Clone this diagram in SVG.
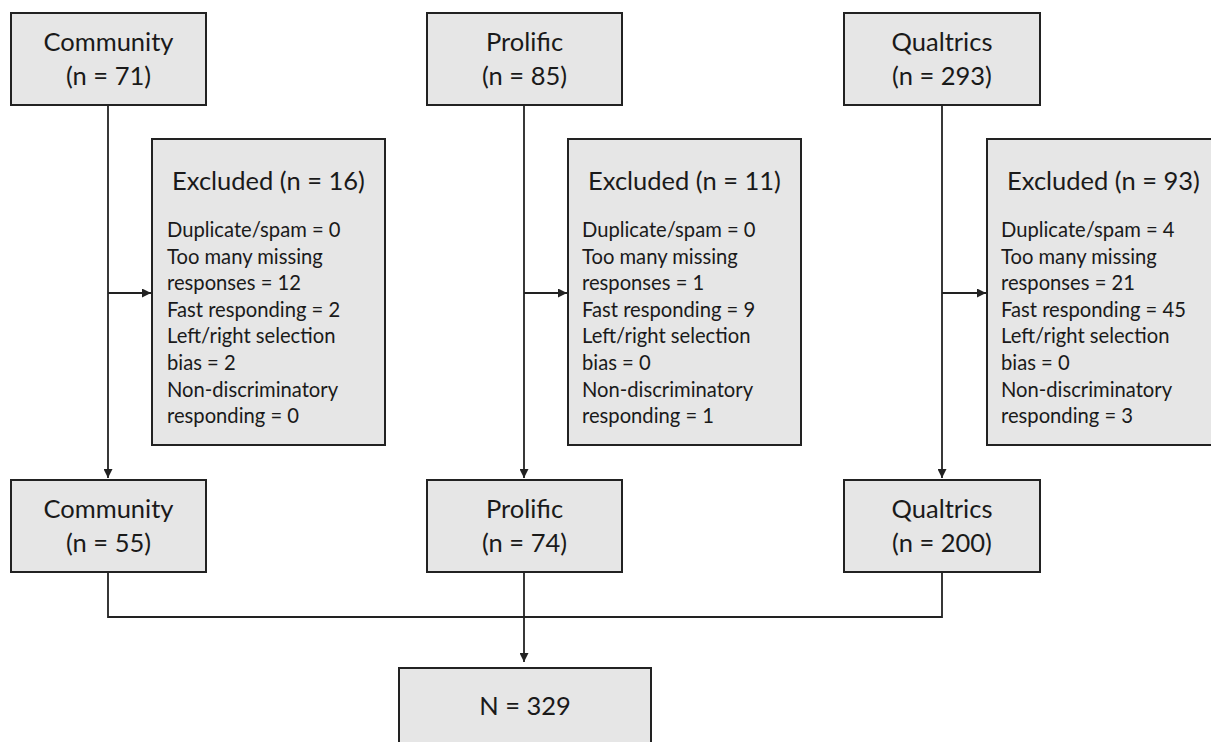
<svg xmlns="http://www.w3.org/2000/svg" width="1211" height="742" viewBox="0 0 1211 742">
<defs>
<style>
.box{fill:#e6e6e6;stroke:#222;stroke-width:2}
.t{font-family:Lato,"Liberation Sans",sans-serif;fill:#1a1a1a}
.h{font-size:25.5px;text-anchor:middle}
.b{font-size:20.2px}
.c{fill:none;stroke:#222;stroke-width:1.8}
</style>
<marker id="ah" viewBox="0 0 10 10" refX="10" refY="5" markerWidth="9" markerHeight="9" markerUnits="userSpaceOnUse" orient="auto">
<path d="M0,0 L10,5 L0,10 z" fill="#222"/>
</marker>
</defs>
<rect width="1211" height="742" fill="#fff"/>
<g id="connectors">
<path class="c" d="M108,105 V478" marker-end="url(#ah)"/>
<path class="c" d="M108,293 H151" marker-end="url(#ah)"/>
<path class="c" d="M524,105 V478" marker-end="url(#ah)"/>
<path class="c" d="M524,293 H567" marker-end="url(#ah)"/>
<path class="c" d="M942,105 V478" marker-end="url(#ah)"/>
<path class="c" d="M942,293 H986" marker-end="url(#ah)"/>
<path class="c" d="M108,572 V617 H942 V572"/>
<path class="c" d="M524,572 V662" marker-end="url(#ah)"/>
</g>
<g id="community-start">
<rect class="box" x="11" y="13" width="195" height="92"/>
<text class="t h" x="108.5" y="51">Community</text>
<text class="t h" x="108.5" y="85">(n = 71)</text>
</g>
<g id="prolific-start">
<rect class="box" x="427" y="13" width="195" height="92"/>
<text class="t h" x="524.5" y="51">Prolific</text>
<text class="t h" x="524.5" y="85">(n = 85)</text>
</g>
<g id="qualtrics-start">
<rect class="box" x="844" y="13" width="196" height="92"/>
<text class="t h" x="942" y="51">Qualtrics</text>
<text class="t h" x="942" y="85">(n = 293)</text>
</g>
<g id="community-excluded">
<rect class="box" x="152" y="139" width="233" height="306"/>
<text class="t h" x="268.5" y="190">Excluded (n = 16)</text>
<text class="t b" x="167" y="237">Duplicate/spam = 0</text>
<text class="t b" x="167" y="263.6">Too many missing</text>
<text class="t b" x="167" y="290.2">responses = 12</text>
<text class="t b" x="167" y="316.8">Fast responding = 2</text>
<text class="t b" x="167" y="343.4">Left/right selection</text>
<text class="t b" x="167" y="370">bias = 2</text>
<text class="t b" x="167" y="396.6">Non-discriminatory</text>
<text class="t b" x="167" y="423.2">responding = 0</text>
</g>
<g id="prolific-excluded">
<rect class="box" x="568" y="139" width="233" height="306"/>
<text class="t h" x="684.5" y="190">Excluded (n = 11)</text>
<text class="t b" x="582" y="237">Duplicate/spam = 0</text>
<text class="t b" x="582" y="263.6">Too many missing</text>
<text class="t b" x="582" y="290.2">responses = 1</text>
<text class="t b" x="582" y="316.8">Fast responding = 9</text>
<text class="t b" x="582" y="343.4">Left/right selection</text>
<text class="t b" x="582" y="370">bias = 0</text>
<text class="t b" x="582" y="396.6">Non-discriminatory</text>
<text class="t b" x="582" y="423.2">responding = 1</text>
</g>
<g id="qualtrics-excluded">
<rect class="box" x="987" y="139" width="233" height="306"/>
<text class="t h" x="1103.5" y="190">Excluded (n = 93)</text>
<text class="t b" x="1001" y="237">Duplicate/spam = 4</text>
<text class="t b" x="1001" y="263.6">Too many missing</text>
<text class="t b" x="1001" y="290.2">responses = 21</text>
<text class="t b" x="1001" y="316.8">Fast responding = 45</text>
<text class="t b" x="1001" y="343.4">Left/right selection</text>
<text class="t b" x="1001" y="370">bias = 0</text>
<text class="t b" x="1001" y="396.6">Non-discriminatory</text>
<text class="t b" x="1001" y="423.2">responding = 3</text>
</g>
<g id="community-final">
<rect class="box" x="11" y="480" width="195" height="92"/>
<text class="t h" x="108.5" y="518">Community</text>
<text class="t h" x="108.5" y="552">(n = 55)</text>
</g>
<g id="prolific-final">
<rect class="box" x="427" y="480" width="195" height="92"/>
<text class="t h" x="524.5" y="518">Prolific</text>
<text class="t h" x="524.5" y="552">(n = 74)</text>
</g>
<g id="qualtrics-final">
<rect class="box" x="844" y="480" width="196" height="92"/>
<text class="t h" x="942" y="518">Qualtrics</text>
<text class="t h" x="942" y="552">(n = 200)</text>
</g>
<g id="total">
<rect class="box" x="399" y="668" width="252" height="92"/>
<text class="t h" x="525" y="715">N = 329</text>
</g>
</svg>
